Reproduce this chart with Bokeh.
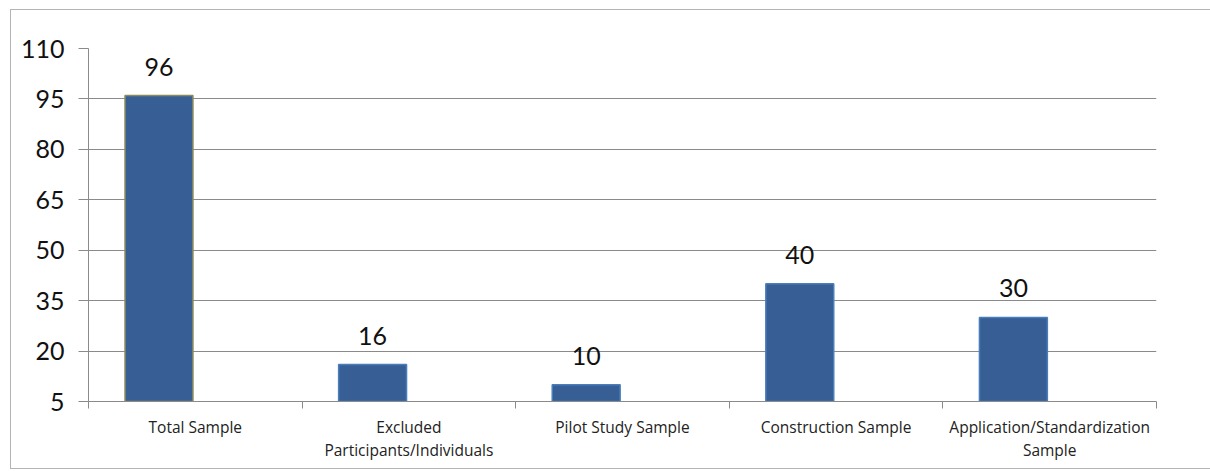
from bokeh.plotting import figure
from bokeh.models import FixedTicker, ColumnDataSource, Range1d
from bokeh.embed import file_html
from bokeh.resources import INLINE
from bokeh.core.properties import value

categories = ["Total Sample", "Excluded\nParticipants/Individuals", "Pilot Study Sample",
              "Construction Sample", "Application/Standardization\nSample"]
counts = [96, 16, 10, 40, 30]
y_ticks = [5, 20, 35, 50, 65, 80, 95, 110]
bar_edges = ["#8c8a5e", "#4a7ebb", "#4a7ebb", "#4a7ebb", "#4a7ebb"]

n = len(categories)
centers = [i + 0.5 for i in range(n)]
bar_x = [c - 0.17 for c in centers]

src = ColumnDataSource(dict(x=bar_x, top=counts, lab=[str(v) for v in counts], edge=bar_edges))

p = figure(frame_width=1068, frame_height=353, output_backend="svg", toolbar_location=None,
           x_range=Range1d(0, n), y_range=Range1d(y_ticks[0], y_ticks[-1]),
           min_border_left=77, min_border_right=54, min_border_top=38, min_border_bottom=67)
p.margin = (9, 0, 0, 10)
p.styles = {"border": "1px solid #b4b4b4"}
p.outline_line_color = None
p.background_fill_color = "white"
p.border_fill_color = "white"

p.vbar(x="x", top="top", bottom=y_ticks[0], width=0.318, source=src,
       fill_color="#385f95", line_color="edge", line_width=1.5)
p.text(x="x", y="top", text="lab", source=src, text_align="center", text_baseline="bottom",
       y_offset=-20, text_font=value("Lato"), text_font_size="25px", text_color="#111111")

# y axis
p.yaxis.ticker = FixedTicker(ticks=y_ticks)
p.yaxis.major_tick_out = 10
p.yaxis.major_tick_in = 0
p.yaxis.minor_tick_out = 0
p.yaxis.minor_tick_in = 0
p.yaxis.major_label_standoff = 14
p.yaxis.major_label_text_font = "Lato"
p.yaxis.major_label_text_font_size = "25px"
p.yaxis.major_label_text_color = "#111111"
p.yaxis.axis_line_color = "#8a8a8a"
p.yaxis.major_tick_line_color = "#8a8a8a"

# x axis
p.xaxis.ticker = FixedTicker(ticks=centers, minor_ticks=list(range(n + 1)))
p.xaxis.major_label_overrides = {c: lab for c, lab in zip(centers, categories)}
p.xaxis.major_tick_out = 0
p.xaxis.major_tick_in = 0
p.xaxis.minor_tick_out = 7
p.xaxis.minor_tick_in = 0
p.xaxis.major_label_standoff = 7
p.xaxis.major_label_text_font = "Open Sans"
p.xaxis.major_label_text_font_size = "15.5px"
p.xaxis.major_label_text_line_height = 1.05
p.xaxis.major_label_text_color = "#222222"
p.xaxis.axis_line_color = "#8a8a8a"
p.xaxis.minor_tick_line_color = "#8a8a8a"

p.xgrid.grid_line_color = None
p.ygrid.ticker = FixedTicker(ticks=y_ticks)
p.ygrid.grid_line_color = "#8a8a8a"
p.ygrid.grid_line_width = 1

open("out.html", "w").write(file_html(p, INLINE))
